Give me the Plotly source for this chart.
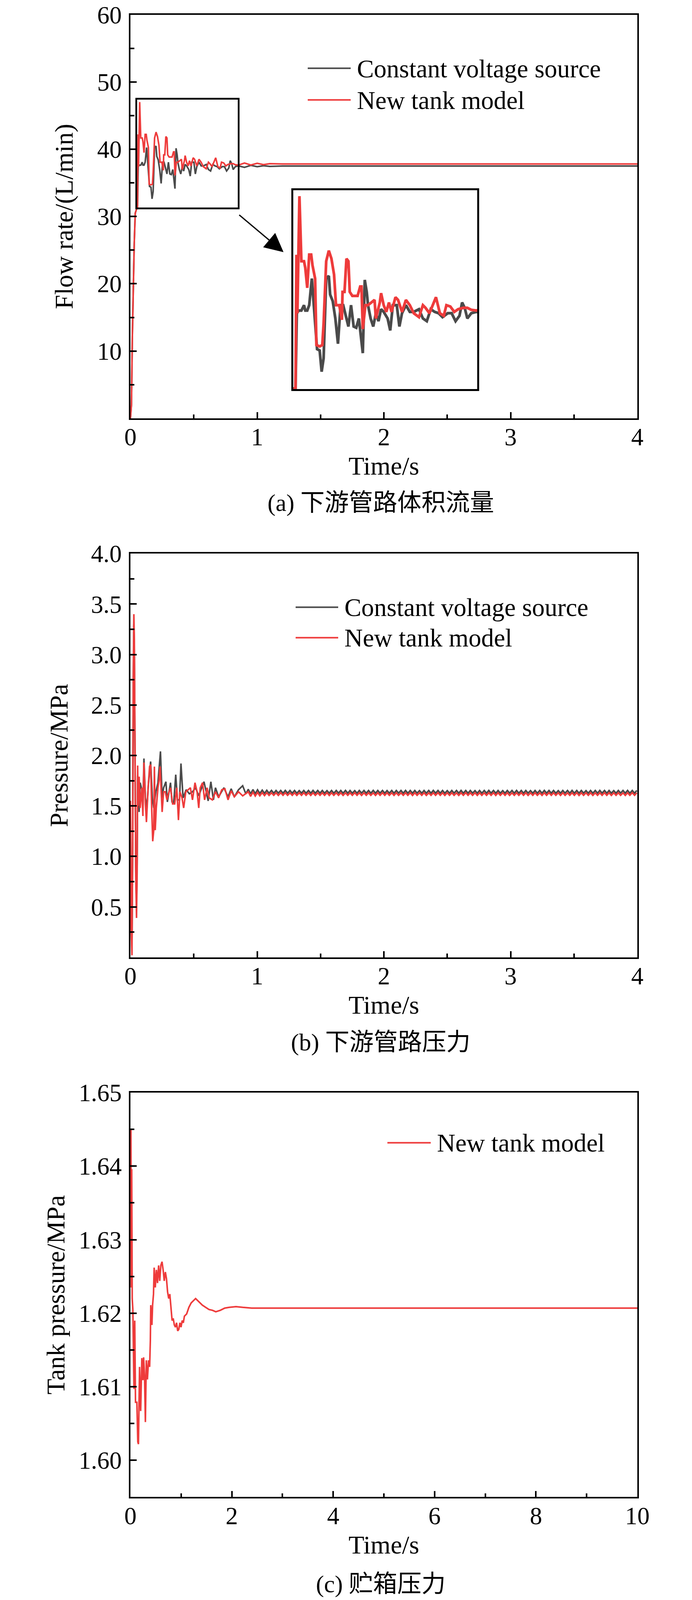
import plotly.graph_objects as go

W, H = 1772, 4150
FONT = "Liberation Serif"
CAP_FONT = "Liberation Serif, Noto Sans CJK SC"
BLACK_C = "#4a4a4a"
RED_C = "#ee3b3b"

SERIES = ["Constant voltage source", "New tank model"]
CAPTIONS = ["(a) 下游管路体积流量", "(b) 下游管路压力", "(c) 贮箱压力"]
YTITLES = ["Flow rate/(L/min)", "Pressure/MPa", "Tank pressure/MPa"]
XTITLE = "Time/s"

# ---------------- (a) flow rate ----------------
t_flow_cvs = [0.000, 0.008, 0.015, 0.022, 0.030, 0.038, 0.045, 0.052,
              0.0558, 0.0615, 0.0701, 0.0816, 0.0931, 0.0988, 0.1074, 0.1160, 0.1275, 0.1332,
              0.1419, 0.1505, 0.1619, 0.1706, 0.1792, 0.1906, 0.2021, 0.2079, 0.2193, 0.2308,
              0.2423, 0.2538, 0.2653, 0.2767, 0.2882, 0.2997, 0.3112, 0.3227, 0.3341, 0.3514,
              0.3600, 0.3686, 0.3743, 0.3858, 0.3973, 0.4088, 0.4203, 0.4317, 0.4432, 0.4604,
              0.4719, 0.4834, 0.5006, 0.5121, 0.5236, 0.5408, 0.5580, 0.5752, 0.5982, 0.6154,
              0.6326, 0.6498, 0.6671, 0.6843, 0.7015, 0.7245, 0.7417, 0.7589, 0.7761, 0.7876,
              0.7991, 0.8106, 0.8278, 0.8507,
              0.90, 0.95, 1.00, 1.05, 1.10, 1.20, 4.00]
q_flow_cvs = [0.0, 2.0, 12.0, 20.0, 26.0, 30.5, 31.0, 31.3,
              31.2, 37.41, 37.63, 37.63, 38.07, 37.63, 37.63, 38.07, 40.25, 38.83,
              36.87, 34.47, 34.36, 32.62, 33.71, 40.25, 40.47, 38.94, 38.40, 36.98,
              34.91, 38.07, 38.07, 37.09, 36.32, 38.07, 36.32, 36.22, 36.98, 34.14,
              40.14, 39.16, 38.07, 36.98, 36.32, 37.41, 36.76, 37.74, 37.52, 36.98,
              36.00, 38.07, 38.07, 36.32, 37.41, 38.07, 37.52, 37.52, 37.74, 36.98,
              36.76, 37.74, 37.52, 37.41, 37.09, 37.41, 37.41, 36.76, 37.20, 38.29,
              37.85, 36.98, 37.41, 37.52,
              37.30, 37.60, 37.40, 37.55, 37.45, 37.50, 37.50]

t_flow_new = [0.000, 0.008, 0.015, 0.022, 0.030, 0.038, 0.045, 0.052,
              0.0558, 0.0600, 0.0640, 0.0730, 0.0816, 0.0931, 0.0988, 0.1074, 0.1160, 0.1246,
              0.1304, 0.1419, 0.1476, 0.1619, 0.1734, 0.1792, 0.1906, 0.2021, 0.2136, 0.2251,
              0.2337, 0.2480, 0.2595, 0.2624, 0.2710, 0.2796, 0.2882, 0.2940, 0.3054, 0.3284,
              0.3399, 0.3456, 0.3514, 0.3628, 0.3743, 0.3916, 0.4030, 0.4088, 0.4260, 0.4317,
              0.4432, 0.4547, 0.4662, 0.4776, 0.4949, 0.5063, 0.5236, 0.5408, 0.5580, 0.5752,
              0.5982, 0.6154, 0.6269, 0.6441, 0.6728, 0.6900, 0.7072, 0.7187, 0.7359, 0.7532,
              0.7704, 0.7933, 0.8106, 0.8278, 0.8507,
              0.90, 0.95, 1.00, 1.05, 1.10, 1.20, 1.50, 4.00]
q_flow_new = [0.0, 2.0, 12.0, 20.0, 26.0, 30.5, 31.0, 31.3,
              31.2, 42.2, 37.4, 47.0, 41.67, 41.67, 41.12, 39.49, 42.21, 42.21,
              41.34, 40.25, 34.80, 34.69, 34.80, 36.54, 41.67, 42.54, 41.88, 40.58,
              38.07, 38.07, 36.87, 39.16, 39.16, 41.88, 41.67, 39.16, 38.83, 38.83,
              39.60, 39.60, 36.11, 38.07, 38.07, 38.29, 38.50, 36.98, 38.29, 39.05,
              38.07, 37.52, 38.29, 37.52, 38.72, 38.50, 37.52, 38.50, 38.07, 37.41,
              37.09, 38.07, 37.85, 37.41, 38.72, 37.41, 37.20, 38.07, 37.96, 37.52,
              37.74, 37.85, 37.85, 37.69, 37.63,
              37.95, 37.65, 37.90, 37.70, 37.85, 37.80, 37.80, 37.80]

# zoomed window of panel (a): time range and flow range shown in the inset
ZOOM_T = [0.046, 0.854]
ZOOM_Q = [31.2, 47.5]
# arrow from zoom window to inset (data coords of panel a)
ARROW_FROM = (0.854, 30.3)
ARROW_TO = (1.208, 24.7)

# ---------------- (b) downstream pressure ----------------
t_pres_early = [0.000, 0.006, 0.012, 0.018, 0.022, 0.027, 0.031, 0.036, 0.042, 0.048, 0.053, 0.057]
p_pres_cvs_early = [1.55, 0.40, 0.10, 1.10, 2.60, 3.30, 3.05, 1.85, 0.90, 0.50, 0.95, 1.80]
p_pres_new_early = [1.55, 0.30, 0.02, 1.20, 2.75, 3.40, 3.15, 1.90, 0.80, 0.39, 0.85, 1.90]

t_pres_cvs_mid = [0.0603, 0.0686, 0.0768, 0.0900, 0.0983, 0.1065, 0.1181, 0.1296, 0.1428, 0.1594,
                  0.1726, 0.1841, 0.2006, 0.2171, 0.2370, 0.2502, 0.2617, 0.2799, 0.2914, 0.3162,
                  0.3278, 0.3410, 0.3575, 0.3707, 0.3872, 0.3988, 0.4153, 0.4400, 0.4648, 0.4896,
                  0.5143, 0.5391, 0.5639, 0.5804, 0.6134, 0.6348, 0.6546, 0.6712, 0.6959, 0.7372,
                  0.7702, 0.7950, 0.8198, 0.8528, 0.8858, 0.9106]
p_pres_cvs_mid = [1.746, 1.44, 1.73, 1.66, 1.48, 1.97, 1.58, 1.48, 1.73, 1.94,
                  1.58, 1.48, 1.64, 1.73, 2.04, 1.58, 1.68, 1.74, 1.54, 1.73,
                  1.54, 1.52, 1.81, 1.56, 1.56, 1.92, 1.58, 1.66, 1.62, 1.64,
                  1.68, 1.60, 1.68, 1.74, 1.55, 1.74, 1.56, 1.68, 1.59, 1.68,
                  1.59, 1.67, 1.59, 1.66, 1.70, 1.62]

t_pres_new_mid = [0.0603, 0.0686, 0.0768, 0.0900, 0.0983, 0.1065, 0.1181, 0.1263, 0.1395, 0.1511,
                  0.1594, 0.1676, 0.1759, 0.1841, 0.1891, 0.1957, 0.2039, 0.2171, 0.2254, 0.2337,
                  0.2419, 0.2502, 0.2617, 0.2749, 0.2881, 0.2997, 0.3162, 0.3327, 0.3492, 0.3657,
                  0.3789, 0.3905, 0.4070, 0.4202, 0.4367, 0.4565, 0.4731, 0.4896, 0.5094, 0.5259,
                  0.5391, 0.5507, 0.5688, 0.5853, 0.6051, 0.6216, 0.6464, 0.6712, 0.6959, 0.7207,
                  0.7455, 0.7702, 0.7950, 0.8198, 0.8528, 0.8858]
p_pres_new_mid = [1.50, 1.79, 1.48, 1.68, 1.40, 1.93, 1.52, 1.34, 1.68, 1.89,
                  1.91, 1.48, 1.15, 1.26, 1.89, 1.26, 1.48, 1.68, 1.75, 1.89,
                  1.68, 1.44, 1.64, 1.64, 1.56, 1.62, 1.68, 1.52, 1.52, 1.68,
                  1.36, 1.64, 1.58, 1.48, 1.64, 1.66, 1.68, 1.56, 1.73, 1.64,
                  1.48, 1.68, 1.73, 1.56, 1.68, 1.58, 1.56, 1.64, 1.58, 1.66,
                  1.67, 1.56, 1.65, 1.59, 1.64, 1.60]

# steady ripple (peak / trough instants)
t_pres_ripple = [0.930, 0.948, 0.967, 0.985, 1.003, 1.021, 1.040, 1.058, 1.076, 1.094,
                 1.113, 1.131, 1.149, 1.167, 1.186, 1.204, 1.222, 1.240, 1.259, 1.277,
                 1.295, 1.313, 1.332, 1.350, 1.368, 1.386, 1.405, 1.423, 1.441, 1.459,
                 1.478, 1.496, 1.514, 1.532, 1.551, 1.569, 1.587, 1.605, 1.624, 1.642,
                 1.660, 1.678, 1.697, 1.715, 1.733, 1.751, 1.770, 1.788, 1.806, 1.824,
                 1.843, 1.861, 1.879, 1.897, 1.916, 1.934, 1.952, 1.970, 1.989, 2.007,
                 2.025, 2.043, 2.062, 2.080, 2.098, 2.116, 2.135, 2.153, 2.171, 2.189,
                 2.208, 2.226, 2.244, 2.262, 2.281, 2.299, 2.317, 2.335, 2.354, 2.372,
                 2.390, 2.408, 2.427, 2.445, 2.463, 2.481, 2.500, 2.518, 2.536, 2.554,
                 2.573, 2.591, 2.609, 2.627, 2.646, 2.664, 2.682, 2.700, 2.719, 2.737,
                 2.755, 2.773, 2.792, 2.810, 2.828, 2.846, 2.865, 2.883, 2.901, 2.919,
                 2.938, 2.956, 2.974, 2.992, 3.011, 3.029, 3.047, 3.065, 3.084, 3.102,
                 3.120, 3.138, 3.157, 3.175, 3.193, 3.211, 3.230, 3.248, 3.266, 3.284,
                 3.303, 3.321, 3.339, 3.357, 3.376, 3.394, 3.412, 3.430, 3.449, 3.467,
                 3.485, 3.503, 3.522, 3.540, 3.558, 3.576, 3.595, 3.613, 3.631, 3.649,
                 3.668, 3.686, 3.704, 3.722, 3.741, 3.759, 3.777, 3.795, 3.814, 3.832,
                 3.850, 3.868, 3.887, 3.905, 3.923, 3.941, 3.960, 3.978, 3.996]
p_pres_cvs_ripple = [1.665, 1.620, 1.662, 1.622, 1.660, 1.624, 1.657, 1.625, 1.655, 1.626,
                     1.654, 1.626, 1.653, 1.627, 1.653, 1.626, 1.654, 1.626, 1.653, 1.626,
                     1.653, 1.626, 1.652, 1.627, 1.653, 1.626, 1.653, 1.626, 1.654, 1.626,
                     1.653, 1.627, 1.653, 1.626, 1.652, 1.626, 1.653, 1.626, 1.653, 1.627,
                     1.653, 1.626, 1.654, 1.626, 1.653, 1.626, 1.652, 1.626, 1.653, 1.627,
                     1.653, 1.626, 1.653, 1.626, 1.654, 1.626, 1.653, 1.627, 1.653, 1.626,
                     1.652, 1.626, 1.653, 1.626, 1.653, 1.627, 1.653, 1.626, 1.654, 1.626,
                     1.653, 1.626, 1.653, 1.627, 1.652, 1.626, 1.653, 1.626, 1.653, 1.626,
                     1.654, 1.627, 1.653, 1.626, 1.653, 1.626, 1.652, 1.626, 1.653, 1.627,
                     1.653, 1.626, 1.654, 1.626, 1.653, 1.626, 1.653, 1.627, 1.652, 1.626,
                     1.653, 1.626, 1.653, 1.626, 1.654, 1.627, 1.653, 1.626, 1.653, 1.626,
                     1.652, 1.626, 1.653, 1.627, 1.653, 1.626, 1.654, 1.626, 1.653, 1.626,
                     1.653, 1.627, 1.652, 1.626, 1.653, 1.626, 1.653, 1.626, 1.654, 1.627,
                     1.653, 1.626, 1.653, 1.626, 1.652, 1.626, 1.653, 1.627, 1.653, 1.626,
                     1.654, 1.626, 1.653, 1.626, 1.653, 1.627, 1.652, 1.626, 1.653, 1.626,
                     1.653, 1.626, 1.654, 1.627, 1.653, 1.626, 1.653, 1.626, 1.652, 1.626,
                     1.653, 1.627, 1.653, 1.626, 1.654, 1.626, 1.653, 1.626, 1.653]
p_pres_new_ripple = [1.640, 1.595, 1.636, 1.598, 1.634, 1.600, 1.632, 1.602, 1.631, 1.604,
                     1.630, 1.605, 1.630, 1.604, 1.631, 1.605, 1.630, 1.605, 1.629, 1.605,
                     1.630, 1.604, 1.630, 1.605, 1.631, 1.605, 1.630, 1.604, 1.630, 1.605,
                     1.629, 1.605, 1.630, 1.605, 1.631, 1.604, 1.630, 1.605, 1.630, 1.605,
                     1.630, 1.604, 1.629, 1.605, 1.630, 1.605, 1.631, 1.605, 1.630, 1.604,
                     1.630, 1.605, 1.630, 1.605, 1.629, 1.604, 1.630, 1.605, 1.631, 1.605,
                     1.630, 1.605, 1.630, 1.604, 1.630, 1.605, 1.629, 1.605, 1.630, 1.605,
                     1.631, 1.604, 1.630, 1.605, 1.630, 1.605, 1.630, 1.604, 1.629, 1.605,
                     1.630, 1.605, 1.631, 1.605, 1.630, 1.604, 1.630, 1.605, 1.630, 1.605,
                     1.629, 1.604, 1.630, 1.605, 1.631, 1.605, 1.630, 1.605, 1.630, 1.604,
                     1.630, 1.605, 1.629, 1.605, 1.630, 1.605, 1.631, 1.604, 1.630, 1.605,
                     1.630, 1.605, 1.630, 1.604, 1.629, 1.605, 1.630, 1.605, 1.631, 1.605,
                     1.630, 1.604, 1.630, 1.605, 1.630, 1.605, 1.629, 1.604, 1.630, 1.605,
                     1.631, 1.605, 1.630, 1.605, 1.630, 1.604, 1.630, 1.605, 1.629, 1.605,
                     1.630, 1.605, 1.631, 1.604, 1.630, 1.605, 1.630, 1.605, 1.630, 1.604,
                     1.629, 1.605, 1.630, 1.605, 1.631, 1.605, 1.630, 1.604, 1.630, 1.605,
                     1.630, 1.605, 1.629, 1.604, 1.630, 1.605, 1.631, 1.605, 1.630]

# ---------------- (c) tank pressure ----------------
t_tank = [0.000, 0.010, 0.018, 0.025, 0.035, 0.048, 0.070, 0.085, 0.100, 0.127,
          0.145, 0.158, 0.180, 0.202, 0.225, 0.247, 0.260, 0.278, 0.295, 0.313,
          0.335, 0.357, 0.379, 0.393, 0.401, 0.424, 0.437, 0.455, 0.468, 0.490,
          0.512, 0.534, 0.556, 0.578, 0.600, 0.623, 0.645, 0.667, 0.689, 0.711,
          0.733, 0.755, 0.777, 0.799, 0.822, 0.844, 0.866, 0.888, 0.910, 0.932,
          0.954, 0.976, 0.998, 1.021, 1.043, 1.065, 1.109, 1.153, 1.198, 1.242,
          1.286, 1.330, 1.375, 1.419, 1.485, 1.551, 1.618, 1.684, 1.773, 1.861,
          1.950, 2.082, 2.215, 2.392, 2.613, 3.276, 10.0]
p_tank = [1.6449, 1.6449, 1.6235, 1.6396, 1.6220, 1.6205, 1.6097, 1.6190, 1.6079, 1.6079,
          1.6025, 1.6022, 1.6127, 1.6067, 1.6139, 1.6109, 1.6140, 1.6115, 1.6052, 1.6136,
          1.6110, 1.6136, 1.6127, 1.6163, 1.6211, 1.6184, 1.6211, 1.6226, 1.6262, 1.6235,
          1.6259, 1.6241, 1.6265, 1.6244, 1.6265, 1.6270, 1.6259, 1.6244, 1.6256, 1.6247,
          1.6229, 1.6220, 1.6226, 1.6205, 1.6190, 1.6193, 1.6184, 1.6181, 1.6187, 1.6176,
          1.6178, 1.6187, 1.6181, 1.6190, 1.6187, 1.6196, 1.6199, 1.6208, 1.6214, 1.6217,
          1.6220, 1.6217, 1.6214, 1.6211, 1.6208, 1.6205, 1.6204, 1.6202, 1.6204, 1.6207,
          1.6208, 1.6209, 1.6208, 1.6207, 1.6207, 1.6207, 1.6207]

t_pres_cvs = t_pres_early + t_pres_cvs_mid + t_pres_ripple
p_pres_cvs = p_pres_cvs_early + p_pres_cvs_mid + p_pres_cvs_ripple
t_pres_new = t_pres_early + t_pres_new_mid + t_pres_ripple
p_pres_new = p_pres_new_early + p_pres_new_mid + p_pres_new_ripple
assert len(t_pres_cvs) == len(p_pres_cvs) and len(t_pres_new) == len(p_pres_new)
assert len(t_flow_cvs) == len(q_flow_cvs) and len(t_flow_new) == len(q_flow_new)
assert len(t_tank) == len(p_tank)

# ---------------- layout geometry (pixels of the 1772x4150 reference) ----------------
PLOT_X = (334, 1632)
PANEL_Y = [(38, 1085), (1436, 2483), (2834, 3883)]
INSET_BOX = (751, 1222, 493, 1009)


def fx(px):
    return px / W


def fy(py):
    return 1 - py / H


fig = go.Figure()

LW = 4
pairs = [("x", "y"), ("x2", "y2"), ("x3", "y3")]

fig.add_trace(go.Scatter(x=t_flow_cvs, y=q_flow_cvs, mode="lines", name=SERIES[0],
                         line=dict(color=BLACK_C, width=LW), xaxis="x", yaxis="y", showlegend=False))
fig.add_trace(go.Scatter(x=t_flow_new, y=q_flow_new, mode="lines", name=SERIES[1],
                         line=dict(color=RED_C, width=LW), xaxis="x", yaxis="y", showlegend=False))
fig.add_trace(go.Scatter(x=t_pres_cvs, y=p_pres_cvs, mode="lines", name=SERIES[0],
                         line=dict(color=BLACK_C, width=LW), xaxis="x2", yaxis="y2", showlegend=False))
fig.add_trace(go.Scatter(x=t_pres_new, y=p_pres_new, mode="lines", name=SERIES[1],
                         line=dict(color=RED_C, width=LW), xaxis="x2", yaxis="y2", showlegend=False))
fig.add_trace(go.Scatter(x=t_tank, y=p_tank, mode="lines", name=SERIES[1],
                         line=dict(color=RED_C, width=LW), xaxis="x3", yaxis="y3", showlegend=False))
# inset (magnified view of panel a)
fig.add_trace(go.Scatter(x=t_flow_cvs, y=q_flow_cvs, mode="lines", name=SERIES[0],
                         line=dict(color=BLACK_C, width=7), xaxis="x4", yaxis="y4", showlegend=False))
fig.add_trace(go.Scatter(x=t_flow_new, y=q_flow_new, mode="lines", name=SERIES[1],
                         line=dict(color=RED_C, width=7), xaxis="x4", yaxis="y4", showlegend=False))

tickfont = dict(family=FONT, size=63, color="black")
titlefont = dict(family=FONT, size=66, color="black")


def base_axis(**kw):
    d = dict(showline=True, linecolor="black", linewidth=3.5, mirror=True,
             ticks="inside", ticklen=16, tickwidth=3.5, tickcolor="black",
             showgrid=False, zeroline=False, tickfont=tickfont, automargin=False)
    d.update(kw)
    return d


def minor(vals):
    return dict(tickvals=vals, ticks="inside", ticklen=10, tickwidth=3.5,
                tickcolor="black", showgrid=False)


xdom = [fx(PLOT_X[0]), fx(PLOT_X[1])]
layout_axes = {}
x_ranges = [[0, 4], [0, 4], [0, 10]]
x_ticks = [[0, 1, 2, 3, 4], [0, 1, 2, 3, 4], [0, 2, 4, 6, 8, 10]]
x_minor = [[0.5, 1.5, 2.5, 3.5], [0.5, 1.5, 2.5, 3.5], [1, 3, 5, 7, 9]]
y_ranges = [[0, 60], [0, 4], [1.595, 1.65]]
y_ticks = [[10, 20, 30, 40, 50, 60],
           [0.5, 1.0, 1.5, 2.0, 2.5, 3.0, 3.5, 4.0],
           [1.60, 1.61, 1.62, 1.63, 1.64, 1.65]]
y_minor = [[5, 15, 25, 35, 45, 55],
           [0.25, 0.75, 1.25, 1.75, 2.25, 2.75, 3.25, 3.75],
           [1.605, 1.615, 1.625, 1.635, 1.645]]
y_fmt = ["d", ".1f", ".2f"]
y_standoff = [42, 39, 15]

for i, (xa, ya) in enumerate(pairs):
    xk = "xaxis" if i == 0 else f"xaxis{i+1}"
    yk = "yaxis" if i == 0 else f"yaxis{i+1}"
    py0, py1 = PANEL_Y[i]
    layout_axes[xk] = base_axis(domain=xdom, anchor=ya, range=x_ranges[i],
                                tickvals=x_ticks[i], minor=minor(x_minor[i]),
                                ticklabelstandoff=-10,
                                title=dict(text=XTITLE, font=titlefont, standoff=17))
    layout_axes[yk] = base_axis(domain=[fy(py1), fy(py0)], anchor=xa, range=y_ranges[i],
                                tickvals=y_ticks[i], tickformat=y_fmt[i], minor=minor(y_minor[i]),
                                ticklabelstandoff=6,
                                title=dict(text=YTITLES[i], font=titlefont, standoff=y_standoff[i]))

bx0, bx1, by0, by1 = INSET_BOX
layout_axes["xaxis4"] = dict(domain=[fx(bx0), fx(bx1)], anchor="y4", range=ZOOM_T,
                             showline=True, linecolor="black", linewidth=5, mirror=True,
                             showticklabels=False, ticks="", showgrid=False, zeroline=False,
                             automargin=False)
layout_axes["yaxis4"] = dict(domain=[fy(by1), fy(by0)], anchor="x4", range=ZOOM_Q,
                             showline=True, linecolor="black", linewidth=5, mirror=True,
                             showticklabels=False, ticks="", showgrid=False, zeroline=False,
                             automargin=False)

shapes = [dict(type="rect", xref="x", yref="y", x0=ZOOM_T[0], x1=ZOOM_T[1],
               y0=ZOOM_Q[0], y1=ZOOM_Q[1], line=dict(color="black", width=4.5))]
annotations = [dict(xref="x", yref="y", axref="x", ayref="y",
                    x=ARROW_TO[0], y=ARROW_TO[1], ax=ARROW_FROM[0], ay=ARROW_FROM[1],
                    text="", showarrow=True, arrowhead=2, arrowsize=3, arrowwidth=3.2,
                    arrowcolor="black")]

# legends (line sample + label), pixel positions
legend_items = [
    (0, 788, 898, 177, BLACK_C), (1, 788, 898, 259, RED_C),
    (0, 757, 866, 1575, BLACK_C), (1, 757, 866, 1654, RED_C),
    (1, 992, 1103, 2964, RED_C),
]
for si, lx0, lx1, ly, col in legend_items:
    shapes.append(dict(type="line", xref="paper", yref="paper",
                       x0=fx(lx0), x1=fx(lx1), y0=fy(ly), y1=fy(ly),
                       line=dict(color=col, width=4)))
    annotations.append(dict(xref="paper", yref="paper", x=fx(lx1 + 14), y=fy(ly + 1),
                            xanchor="left", yanchor="middle", showarrow=False,
                            text=SERIES[si], font=dict(family=FONT, size=65, color="black")))

# captions: (y position in px, vertical anchor)
cap_pos = [(1304, "middle"), (2704, "middle"), (4146, "bottom")]
for i, (cy, anc) in enumerate(cap_pos):
    annotations.append(dict(xref="paper", yref="paper", x=fx(975), y=fy(cy),
                            xanchor="center", yanchor=anc, showarrow=False,
                            text=CAPTIONS[i], font=dict(family=CAP_FONT, size=62, color="black")))

fig.update_layout(width=W, height=H, margin=dict(l=0, r=0, t=0, b=0, autoexpand=False),
                  paper_bgcolor="white", plot_bgcolor="white", showlegend=False,
                  shapes=shapes, annotations=annotations, **layout_axes)

# Put the figure at the page origin and, if the visible viewport is shorter than the
# figure, fit the figure height to it so the whole chart (incl. caption c) stays visible.
POST = (
    "document.body.style.margin='0px';"
    "var gd=document.getElementById('{plot_id}');"
    "var vh=window.innerHeight;"
    "if(vh && vh < " + str(H) + "){gd.style.height=vh+'px';"
    "Plotly.relayout(gd,{height:vh});}"
)
fig.write_html("out.html", config={"displayModeBar": False}, post_script=POST)
